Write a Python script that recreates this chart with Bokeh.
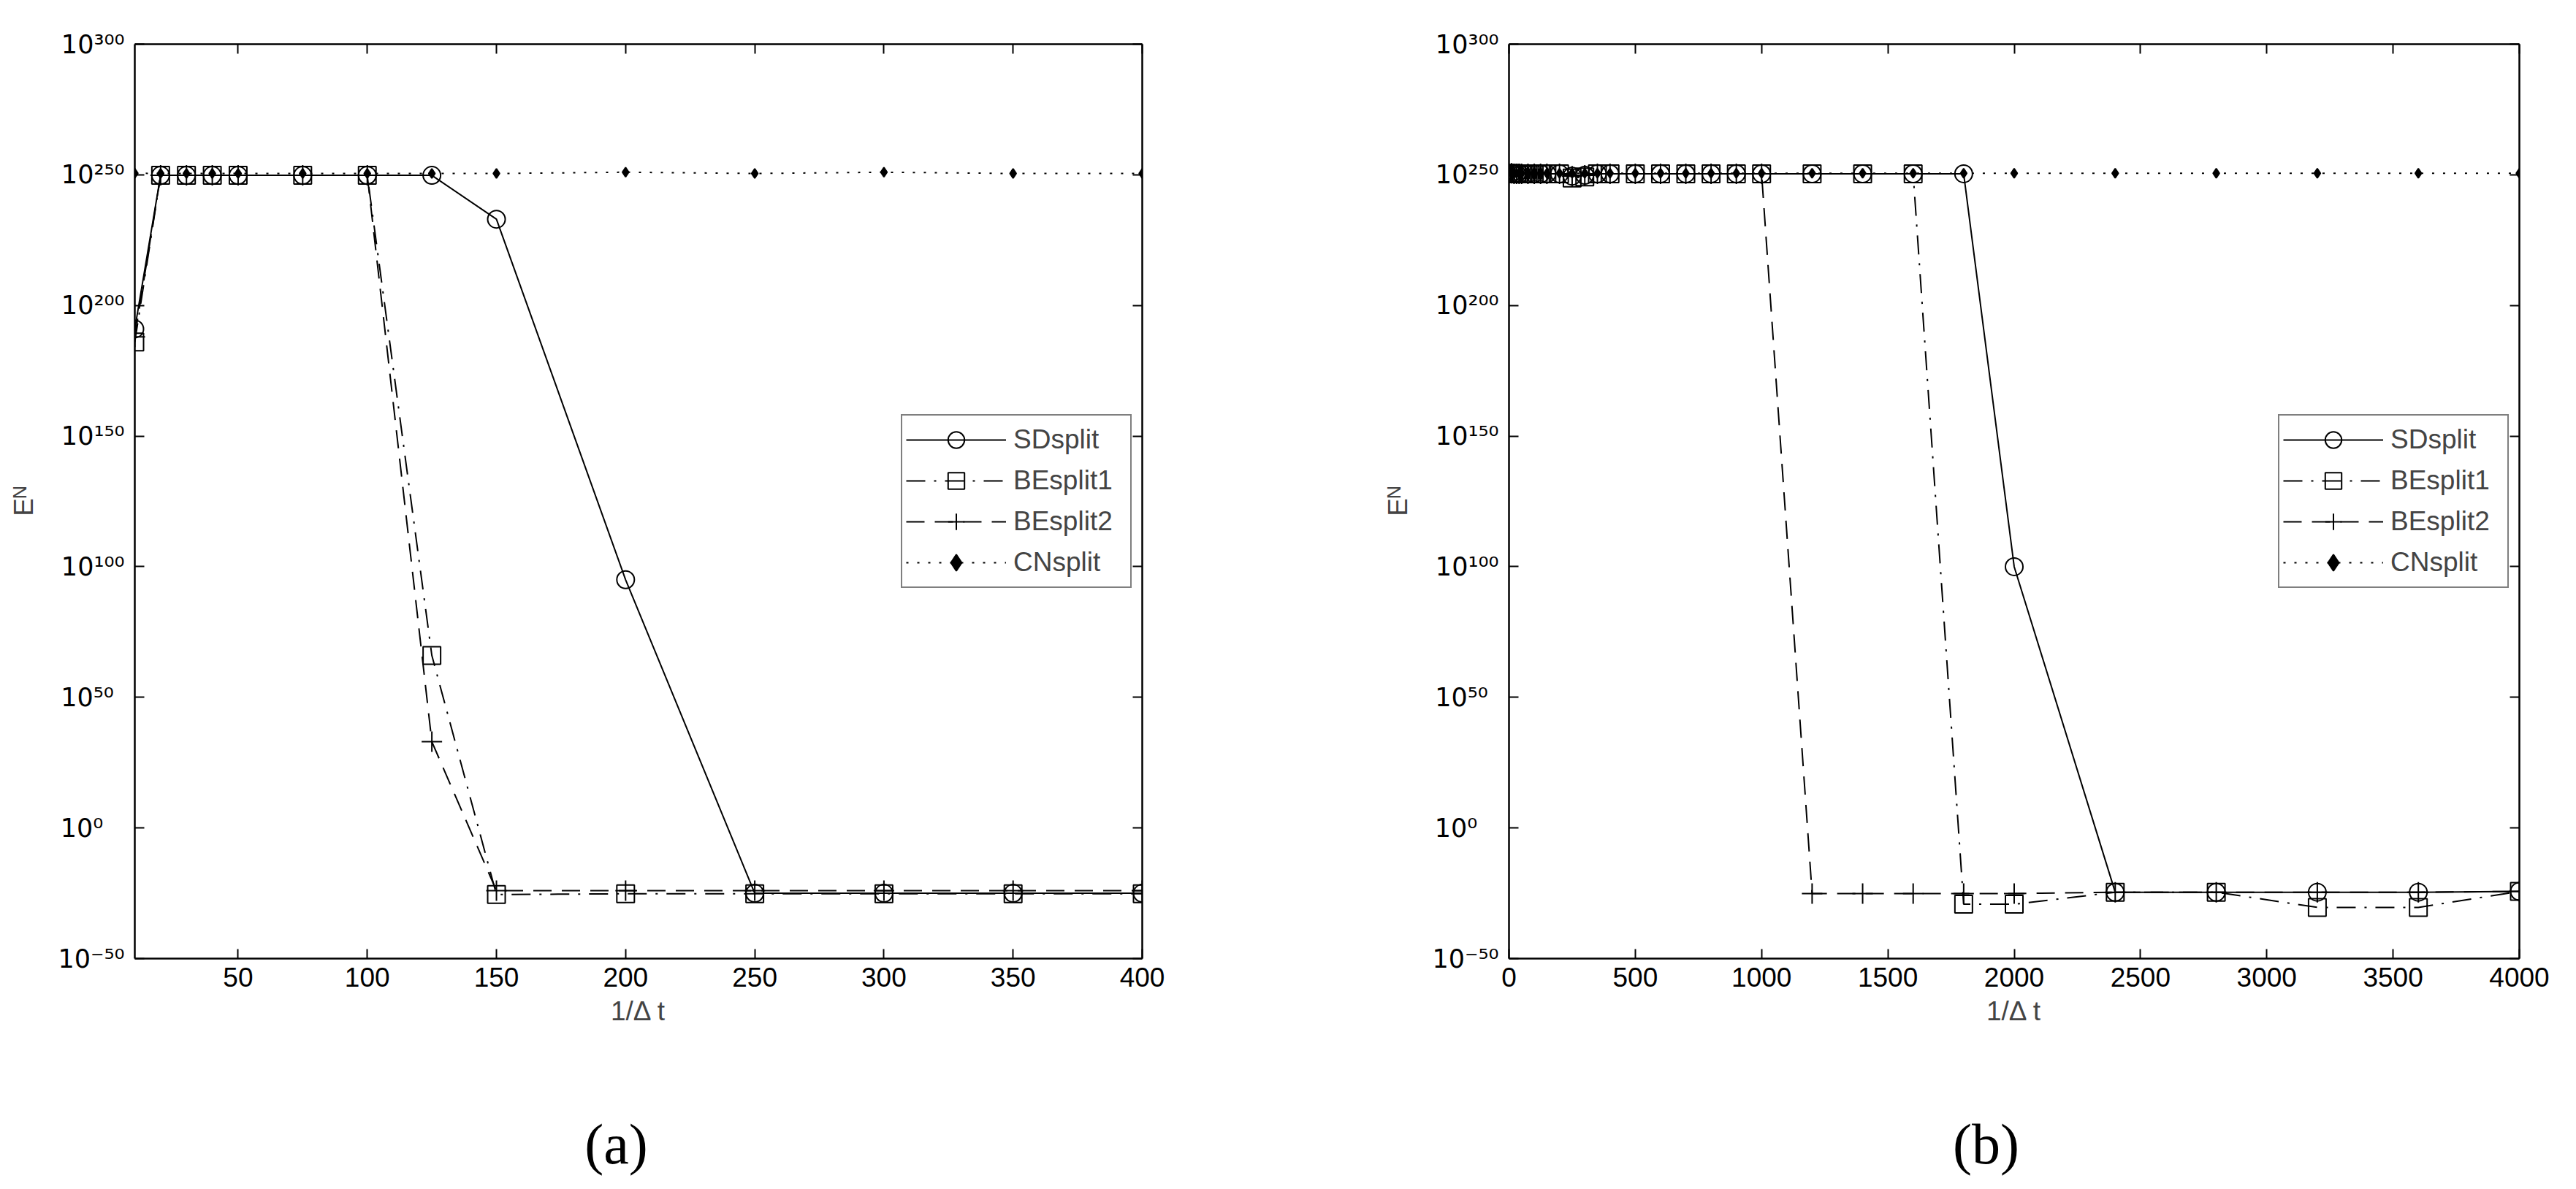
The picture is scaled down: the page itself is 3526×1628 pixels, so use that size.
from bokeh.plotting import figure
from bokeh.layouts import row, column
from bokeh.models import Range1d, LinearAxis, FixedTicker, Label, CustomLabelingPolicy
from bokeh.embed import file_html
from bokeh.resources import INLINE

# ---------------- data (exponents of E^N, i.e. log10 values) ----------------
x_a = [10, 20, 30, 40, 50, 75, 100, 125, 150, 200, 250, 300, 350, 400]
sd_a = [191, 249.8, 249.8, 249.8, 249.8, 249.8, 249.8, 249.8, 233, 95, -25, -25, -25, -25]
be1_a = [186, 249.8, 249.8, 249.8, 249.8, 249.8, 249.8, 66, -25.5, -25.2, -25.2, -25.2, -25.2, -25.2]
be2_a = [188, 249.8, 249.8, 249.8, 249.8, 249.8, 249.8, 33, -24, -24, -24, -24, -24, -24]
cn_a = [250.6, 250.5, 250.5, 250.5, 250.5, 250.5, 250.5, 250.5, 250.5, 251, 250.5, 251, 250.5, 250.5]

x_b = [10, 20, 30, 40, 50, 75, 100, 125, 150, 200, 250, 300, 350, 400, 500,
       600, 700, 800, 900, 1000, 1200, 1400, 1600, 1800, 2000, 2400, 2800, 3200, 3600, 4000]
sd_b = [250.6, 250.4, 250.4, 250.4, 250.4, 250.4, 250.4, 250.4, 250.4, 250.4,
        249.5, 249.8, 250.4, 250.4, 250.4, 250.4, 250.4, 250.4, 250.4, 250.4,
        250.4, 250.4, 250.4, 250.4, 100, -24.6, -24.6, -24.6, -24.6, -24.3]
be1_b = [250.6, 250.4, 250.4, 250.4, 250.4, 250.4, 250.4, 250.4, 250.4, 250.4,
         248.8, 249.2, 250.4, 250.4, 250.4, 250.4, 250.4, 250.4, 250.4, 250.4,
         250.4, 250.4, 250.4, -29.2, -29.2, -24.6, -24.6, -30.4, -30.4, -24.3]
be2_b = [250.6, 250.4, 250.4, 250.4, 250.4, 250.4, 250.4, 250.4, 250.4, 250.4,
         249.5, 249.8, 250.4, 250.4, 250.4, 250.4, 250.4, 250.4, 250.4, 250.4,
         -25.1, -25.1, -25.1, -25.1, -25.1, -24.6, -24.6, -24.6, -24.6, -24.3]
cn_b = [250.6, 250.6, 250.6, 250.6, 250.6, 250.6, 250.6, 250.6, 250.6, 250.6,
        250.6, 250.6, 250.6, 250.6, 250.6, 250.6, 250.6, 250.6, 250.6, 250.6,
        250.6, 250.6, 250.6, 250.6, 250.6, 250.6, 250.6, 250.6, 250.6, 250.6]

series_names = ["SDsplit", "BEsplit1", "BEsplit2", "CNsplit"]

y_ticks = [-50, 0, 50, 100, 150, 200, 250, 300]
# 10^k with superscript digits; short ones padded so the "10" parts line up on the left
y_tick_labels = ["10\u207b\u2075\u2070", "10\u2070\u2007\u2009", "10\u2075\u2070\u2008\u200a",
                 "10\u00b9\u2070\u2070", "10\u00b9\u2075\u2070", "10\u00b2\u2070\u2070",
                 "10\u00b2\u2075\u2070", "10\u00b3\u2070\u2070"]
x_ticks_a = [50, 100, 150, 200, 250, 300, 350, 400]
x_ticks_b = [0, 500, 1000, 1500, 2000, 2500, 3000, 3500, 4000]

x_title = "1/\u0394 t"
y_title = "E\u1d3a"
captions = ["(a)", "(b)"]

# ---------------- styles / layout ----------------
FONT = "Liberation Sans"
SUP_FONT = "DejaVu Sans"
STYLES = [
    dict(dash="solid", marker="circle", size=24, fill=None),
    dict(dash="26 12 3 12", marker="square", size=24, fill=None),
    dict(dash="25 14", marker="cross", size=28, fill=None),
    dict(dash="3 12", marker="diamond", size=13, fill="black"),
]
PANEL_W = 1755
PLOT_H = 1422
CAP_H = 190

NO_LABELS = CustomLabelingPolicy(code="""
    for (const i of indices) { indices.unset(i) }
    return indices
""")


def style_axis(ax, ticks, labels):
    ax.ticker = FixedTicker(ticks=ticks)
    ax.axis_line_color = "black"
    ax.axis_line_width = 2.5
    ax.major_tick_in = 13
    ax.major_tick_out = 0
    ax.major_tick_line_color = "black"
    ax.major_tick_line_width = 2
    ax.minor_tick_line_color = None
    ax.major_label_text_font = FONT
    ax.major_label_text_color = "black"
    if labels:
        ax.major_label_text_font_size = "37px"
    else:
        ax.major_label_text_font_size = "0px"
        ax.major_label_standoff = 0
        ax.major_label_policy = NO_LABELS


def make_panel(xs, ys_list, xr, x_ticks, bl, br):
    p = figure(width=PANEL_W, height=PLOT_H, output_backend="svg", toolbar_location=None,
               x_range=Range1d(*xr), y_range=Range1d(-50, 300),
               min_border_left=bl, min_border_right=br, min_border_top=60, min_border_bottom=110,
               background_fill_color="white", border_fill_color="white")
    p.outline_line_color = None
    p.xgrid.visible = False
    p.ygrid.visible = False

    xa = p.xaxis[0]
    style_axis(xa, x_ticks, True)
    xa.major_label_standoff = 12
    xa.axis_label = x_title
    xa.axis_label_text_font = FONT
    xa.axis_label_text_font_size = "37px"
    xa.axis_label_text_font_style = "normal"
    xa.axis_label_standoff = 10

    ya = p.yaxis[0]
    style_axis(ya, y_ticks, True)
    ya.major_label_overrides = dict(zip(y_ticks, y_tick_labels))
    ya.major_label_text_font = SUP_FONT
    ya.major_label_text_font_size = "35px"
    ya.major_label_standoff = 14
    ya.axis_label = y_title
    ya.axis_label_text_font = FONT
    ya.axis_label_text_font_size = "37px"
    ya.axis_label_text_font_style = "normal"
    ya.axis_label_standoff = 23

    top = LinearAxis()
    style_axis(top, x_ticks, False)
    p.add_layout(top, "above")
    right = LinearAxis()
    style_axis(right, y_ticks, False)
    p.add_layout(right, "right")

    for name, ys, st in zip(series_names, ys_list, STYLES):
        p.line(xs, ys, line_color="black", line_width=2, line_dash=st["dash"], legend_label=name)
        p.scatter(xs, ys, marker=st["marker"], size=st["size"], line_color="black",
                  line_width=2, fill_color=st["fill"], legend_label=name)

    lg = p.legend[0]
    lg.location = "center_right"
    lg.margin = 14
    lg.padding = 5
    lg.spacing = 0
    lg.glyph_width = 137
    lg.glyph_height = 56
    lg.label_height = 56
    lg.label_width = 155
    lg.label_standoff = 10
    lg.label_text_font = FONT
    lg.label_text_font_size = "37px"
    lg.border_line_color = "black"
    lg.border_line_width = 2
    lg.background_fill_color = "white"
    lg.background_fill_alpha = 1
    return p


def make_caption(text, bl, br, cx):
    # caption strip under a panel; same side borders as the panel, so frames stay aligned.
    # x_range is in pixels from the panel frame's left edge.
    fw = PANEL_W - bl - br
    c = figure(width=PANEL_W, height=CAP_H, output_backend="svg", toolbar_location=None,
               x_range=Range1d(0, fw), y_range=Range1d(0, CAP_H),
               min_border_left=bl, min_border_right=br, min_border_top=0, min_border_bottom=0,
               background_fill_color="white", border_fill_color="white")
    c.axis.visible = False
    c.grid.visible = False
    c.outline_line_color = None
    c.add_layout(Label(x=cx, y=46, text=text, text_align="center", text_baseline="alphabetic",
                       text_font="Liberation Serif", text_font_size="78px",
                       text_font_style="normal", text_color="black"))
    return c


pa = make_panel(x_a, [sd_a, be1_a, be2_a, cn_a], (10, 400), x_ticks_a, 184, 192)
pb = make_panel(x_b, [sd_b, be1_b, be2_b, cn_b], (0, 4000), x_ticks_b, 310, 62)
ca = make_caption(captions[0], 184, 192, 659)
cb = make_caption(captions[1], 310, 62, 653)

layout = row(column(pa, ca), column(pb, cb))
open("out.html", "w").write(file_html(layout, INLINE))
